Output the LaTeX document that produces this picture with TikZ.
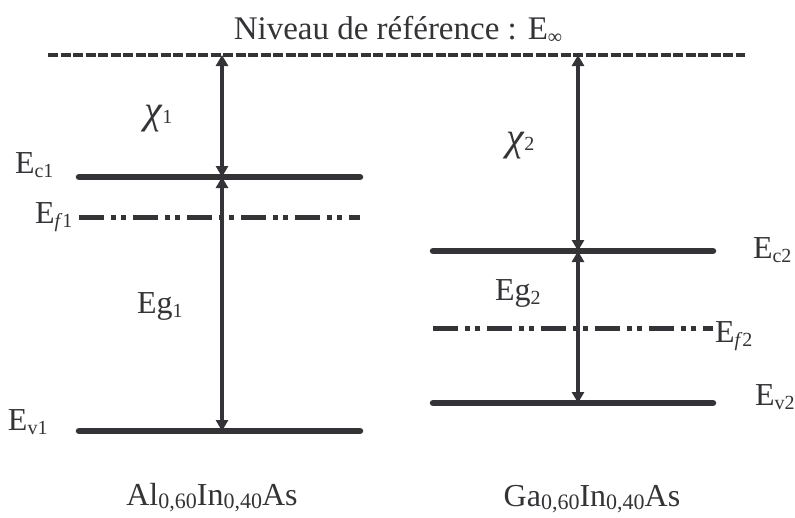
\documentclass[tikz,border=0pt]{standalone}
\usepackage{fontspec}
\setmainfont{Liberation Serif}
\usetikzlibrary{arrows.meta}
\definecolor{ink}{RGB}{52,52,56}
\newcommand{\lsub}[1]{\raisebox{-0.14em}{\fontsize{20}{20}\selectfont #1}}
\newcommand{\bsub}[1]{\raisebox{-0.12em}{\fontsize{22}{22}\selectfont #1}}
\newcommand{\ssm}[1]{{\fontsize{20}{20}\selectfont #1}}
\newcommand{\bigchi}{{\fontsize{40}{40}\selectfont\textit{χ}}}
\begin{document}
\begin{tikzpicture}[x=1pt,y=-1pt,
  every node/.style={inner sep=0pt,outer sep=0pt,text=ink,font=\fontsize{32}{36}\selectfont},
  band/.style={draw=ink,line width=6.5pt,line cap=round},
  fermi/.style={draw=ink,line width=5pt,dash pattern=on 25pt off 7pt on 5pt off 5pt on 5pt off 7pt},
  refline/.style={draw=ink,line width=4pt,dash pattern=on 10pt off 2.5pt},
  gap/.style={draw=ink,line width=3.2pt,{Triangle[length=11pt,width=12pt]}-{Triangle[length=11pt,width=12pt]}}]
\useasboundingbox (0,0) rectangle (795,517);
% reference level
\coordinate (refL) at (48,55);
\coordinate (refR) at (745,55);
\draw[refline] (refL) -- (refR);
\node[anchor=base] (title) at (398,39) {\fontsize{33}{36}\selectfont Niveau de référence : E\lsub{∞}};
% left material
\coordinate (ec1L) at (79,177); \coordinate (ec1R) at (360,177);
\coordinate (ef1L) at (79,217); \coordinate (ef1R) at (360,217);
\coordinate (ev1L) at (79,431); \coordinate (ev1R) at (360,431);
\draw[band] (ec1L) -- (ec1R);
\draw[fermi] (ef1L) -- (ef1R);
\draw[band] (ev1L) -- (ev1R);
\coordinate (a1t) at (222,55); \coordinate (a1c) at (222,177); \coordinate (a1v) at (222,431);
\draw[gap] (a1c) -- (a1t);
\draw[gap] (a1c) -- (a1v);
% right material
\coordinate (ec2L) at (433,251); \coordinate (ec2R) at (713,251);
\coordinate (ef2L) at (433,328); \coordinate (ef2R) at (713,328);
\coordinate (ev2L) at (433,403); \coordinate (ev2R) at (713,403);
\draw[band] (ec2L) -- (ec2R);
\draw[fermi] (ef2L) -- (ef2R);
\draw[band] (ev2L) -- (ev2R);
\coordinate (a2t) at (578,55); \coordinate (a2c) at (578,251); \coordinate (a2v) at (578,403);
\draw[gap] (a2c) -- (a2t);
\draw[gap] (a2c) -- (a2v);
% labels left
\node[anchor=base west] (chi1) at (144,123) {\bigchi\ssm{1}};
\node[anchor=base west] (lec1) at (15,173) {E\lsub{c1}};
\node[anchor=base west] (lef1) at (35,223) {E\lsub{\textit{f}1}};
\node[anchor=base west] (leg1) at (137,313) {Eg\lsub{1}};
\node[anchor=base west] (lev1) at (8,430) {E\lsub{v1}};
% labels right
\node[anchor=base west] (chi2) at (506,150) {\bigchi\ssm{2}};
\node[anchor=base west] (lec2) at (753,258) {E\lsub{c2}};
\node[anchor=base west] (leg2) at (495,300) {Eg\lsub{2}};
\node[anchor=base west] (lef2) at (715,342) {E\lsub{\textit{f}2}};
\node[anchor=base west] (lev2) at (755,405) {E\lsub{v2}};
% materials
\node[anchor=base] (mat1) at (212,505) {Al\bsub{0,60}In\bsub{0,40}As};
\node[anchor=base] (mat2) at (592,506) {Ga\bsub{0,60}In\bsub{0,40}As};
\end{tikzpicture}
\end{document}
